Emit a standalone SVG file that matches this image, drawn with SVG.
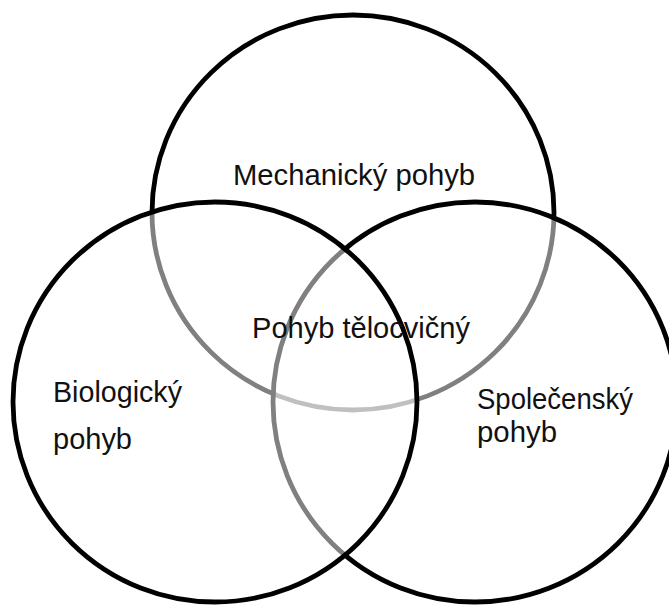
<svg xmlns="http://www.w3.org/2000/svg" width="669" height="605" viewBox="0 0 669 605">
  <style>
    .ring { fill: #ffffff; fill-opacity: 0.5; stroke: #000000; stroke-width: 4.8; }
    .lbl { font-family: "Liberation Sans", Arial, sans-serif; font-size: 29px; fill: #111111; }
  </style>
  <rect x="0" y="0" width="669" height="605" fill="#ffffff"/>
  <g id="mechanicky">
    <ellipse class="ring" cx="353" cy="212.5" rx="201" ry="197.5"/>
  </g>
  <g id="spolecensky">
    <ellipse class="ring" cx="475" cy="402" rx="202" ry="200"/>
  </g>
  <g id="biologicky">
    <ellipse class="ring" cx="215" cy="402" rx="202" ry="200"/>
  </g>
  <g id="connectors"></g>
  <g id="labels">
    <text class="lbl" x="233" y="185" textLength="242" lengthAdjust="spacingAndGlyphs">Mechanický pohyb</text>
    <text class="lbl" x="252" y="338" textLength="218" lengthAdjust="spacingAndGlyphs">Pohyb tělocvičný</text>
    <text class="lbl" x="53" y="402" textLength="129" lengthAdjust="spacingAndGlyphs">Biologický</text>
    <text class="lbl" x="53" y="449" textLength="79" lengthAdjust="spacingAndGlyphs">pohyb</text>
    <text class="lbl" x="477" y="409" textLength="156" lengthAdjust="spacingAndGlyphs">Společenský</text>
    <text class="lbl" x="477" y="442" textLength="80" lengthAdjust="spacingAndGlyphs">pohyb</text>
  </g>
</svg>
